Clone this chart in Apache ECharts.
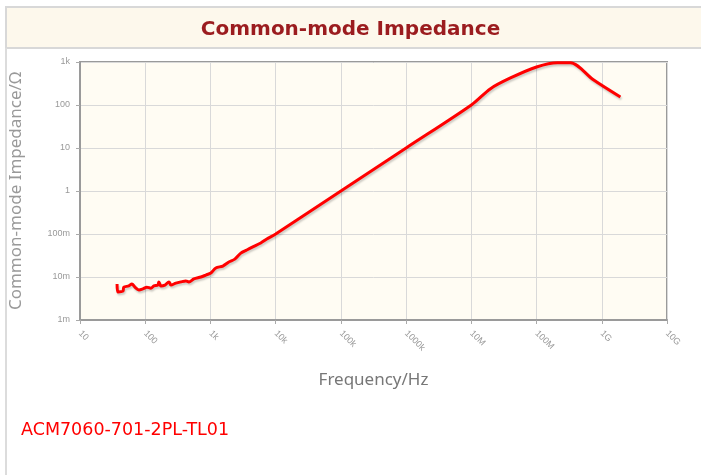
<!DOCTYPE html>
<html>
<head>
<meta charset="utf-8">
<script src="https://cdn.jsdelivr.net/npm/echarts@6/dist/echarts.min.js"></script>
<style>
html, body { margin: 0; padding: 0; background: #fff; }
#chart { width: 701px; height: 475px; }
</style>
</head>
<body>
<div id="chart"></div>
<script>
// frequency (Hz) and impedance (ohm)
var freq = [37, 38, 45.5, 47, 56, 62.5, 69.5, 80, 92, 106, 122, 136, 156, 162, 174, 200, 231, 248, 295, 352, 420, 467, 557, 713, 851, 1015,
    1210, 1550, 1914, 2365, 2924, 3610, 4460, 5910, 7310, 10000, 100000, 1000000, 10000000,
    19700000, 39800000, 100000000, 209000000, 330000000, 743000000, 1930000000];
var impedance = [0.0069, 0.0045, 0.0047, 0.0058, 0.0062, 0.0069, 0.0058, 0.0050, 0.0053, 0.0058, 0.0055, 0.0062, 0.0065, 0.0077, 0.0062, 0.0065, 0.0077, 0.0065, 0.0072, 0.0077, 0.0081, 0.0077, 0.0090, 0.010, 0.0111, 0.0124,
    0.0162, 0.018, 0.0223, 0.026, 0.036, 0.0425, 0.050, 0.0618, 0.0765, 0.1, 1, 10, 100,
    240, 425, 766, 960, 960, 385, 153];

var xTickValues = [10, 100, 1e3, 1e4, 1e5, 1e6, 1e7, 1e8, 1e9, 1e10];
var xTickLabels = ['10', '100', '1k', '10k', '100k', '1000k', '10M', '100M', '1G', '10G'];
var yTickValues = [0.001, 0.01, 0.1, 1, 10, 100, 1000];
var yTickLabels = ['1m', '10m', '100m', '1', '10', '100', '1k'];

function tickLabel(values, labels) {
    return function (v) {
        for (var i = 0; i < values.length; i++) {
            if (Math.abs(Math.log10(v) - Math.log10(values[i])) < 0.01) return labels[i];
        }
        return '';
    };
}

var points = [];
for (var i = 0; i < freq.length; i++) {
    points.push([freq[i], impedance[i]]);
}

var myChart = echarts.init(document.getElementById('chart'), null, {renderer: 'canvas'});
var option = {
    animation: false,
    title: {
        text: 'Common-mode Impedance',
        left: 'center',
        top: 15,
        textStyle: {color: '#9b1c1f', fontSize: 20, fontWeight: 'bold', fontFamily: 'DejaVu Sans'}
    },
    graphic: [
        {type: 'rect', z: -10, shape: {x: 6, y: 7, width: 700, height: 41},
            style: {fill: '#fdf8ec', stroke: '#d8d8d8', lineWidth: 2}},
        {type: 'line', z: -10, shape: {x1: 6, y1: 48, x2: 6, y2: 475},
            style: {stroke: '#dcdcdc', lineWidth: 2}},
        {type: 'text', left: 21, top: 421,
            style: {text: 'ACM7060-701-2PL-TL01', fill: '#ff0000', fontSize: 17.5, fontFamily: 'DejaVu Sans'}}
    ],
    grid: {
        left: 79, right: 34, top: 62, bottom: 155,
        show: true, backgroundColor: '#fffcf3', borderColor: '#9a9a9a', borderWidth: 2
    },
    xAxis: {
        type: 'log', logBase: 10, min: 10, max: 1e10,
        name: 'Frequency/Hz', nameLocation: 'middle', nameGap: 52,
        nameTextStyle: {color: '#777', fontSize: 17, fontFamily: 'Noto Sans'},
        axisLine: {show: true, lineStyle: {color: '#9a9a9a', width: 2}},
        axisTick: {show: true, length: 4, lineStyle: {color: '#aaa'}},
        splitLine: {show: true, lineStyle: {color: '#d9d9d9'}},
        minorTick: {show: false},
        axisLabel: {rotate: -45, color: '#999', fontSize: 9, margin: 12,
            formatter: tickLabel(xTickValues, xTickLabels)}
    },
    yAxis: {
        type: 'log', logBase: 10, min: 0.001, max: 1000,
        name: 'Common-mode Impedance/Ω', nameLocation: 'middle', nameGap: 55,
        nameTextStyle: {color: '#999', fontSize: 17, fontFamily: 'Noto Sans'},
        axisLine: {show: true, lineStyle: {color: '#9a9a9a', width: 2}},
        axisTick: {show: true, length: 4, lineStyle: {color: '#aaa'}},
        splitLine: {show: true, lineStyle: {color: '#d9d9d9'}},
        axisLabel: {color: '#999', fontSize: 9, margin: 10,
            formatter: tickLabel(yTickValues, yTickLabels)}
    },
    series: [
        {
            type: 'line',
            data: points,
            showSymbol: false,
            smooth: 0.3,
            lineStyle: {color: '#ff0000', width: 3,
                shadowColor: 'rgba(0,0,0,0.2)', shadowBlur: 2, shadowOffsetX: 1, shadowOffsetY: 2}
        }
    ]
};
myChart.setOption(option);
</script>
</body>
</html>
